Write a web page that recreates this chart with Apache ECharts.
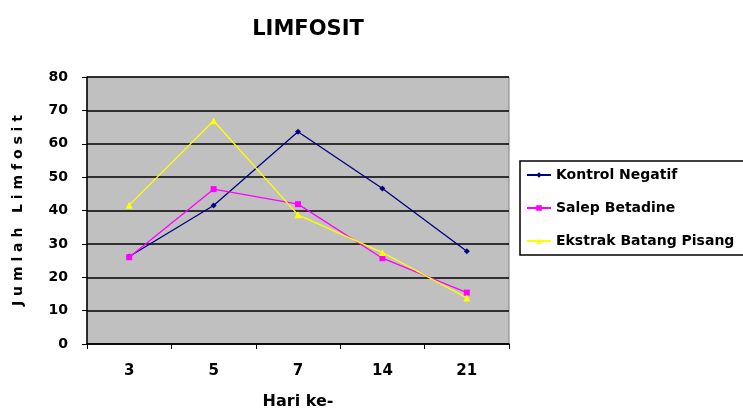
<!DOCTYPE html>
<html>
<head>
<meta charset="utf-8">
<script src="https://cdn.jsdelivr.net/npm/echarts@6/dist/echarts.min.js"></script>
<style>html,body{margin:0;padding:0;background:#fff;}#c{width:743px;height:409px;}</style>
</head>
<body>
<div id="c"></div>
<script>
const categories = ['3', '5', '7', '14', '21'];
const kontrolNegatif = [26.2, 41.5, 63.6, 46.6, 27.8];
const salepBetadine = [26.0, 46.4, 41.9, 25.7, 15.4];
const ekstrakBatangPisang = [41.6, 66.9, 38.7, 27.4, 13.8];
const seriesNames = ['Kontrol Negatif', 'Salep Betadine', 'Ekstrak Batang Pisang'];

const font = '"DejaVu Sans", "Liberation Sans", Arial, sans-serif';
const chart = echarts.init(document.getElementById('c'));
chart.setOption({
  backgroundColor: '#ffffff',
  animation: false,
  title: {
    text: 'LIMFOSIT', left: 303, top: 14, textAlign: 'center',
    textStyle: { fontFamily: font, fontWeight: 'bold', fontSize: 21, color: '#000' }
  },
  legend: {
    orient: 'vertical', left: 520, top: 161,
    data: seriesNames,
    itemWidth: 24, itemHeight: 7, itemGap: 19,
    padding: [7, 40, 7, 6],
    borderColor: '#000', borderWidth: 1.5,
    textStyle: { fontFamily: font, fontWeight: 'bold', fontSize: 14, color: '#000' }
  },
  grid: {
    left: 87, right: 234, top: 77, bottom: 65,
    outerBoundsMode: 'none', containLabel: false,
    show: true, backgroundColor: '#C0C0C0', borderColor: '#808080', borderWidth: 1
  },
  xAxis: {
    type: 'category', data: categories, boundaryGap: true,
    name: 'Hari ke-', nameLocation: 'middle', nameGap: 50,
    nameTextStyle: { fontFamily: font, fontWeight: 'bold', fontSize: 16, color: '#000' },
    axisLine: { lineStyle: { color: '#000', width: 1.5 } },
    axisTick: { show: true, length: 5, lineStyle: { color: '#000' } },
    axisLabel: { fontFamily: font, fontWeight: 'bold', fontSize: 15, color: '#000', margin: 20 }
  },
  yAxis: {
    type: 'value', min: 0, max: 80, interval: 10,
    name: 'J u m l a h   L i m f o s i t', nameLocation: 'middle', nameGap: 62, nameRotate: 90,
    nameTextStyle: { fontFamily: font, fontWeight: 'bold', fontSize: 14, color: '#000' },
    axisLine: { show: true, lineStyle: { color: '#000', width: 1.5 } },
    axisTick: { show: true, length: 5, lineStyle: { color: '#000' } },
    axisLabel: { fontFamily: font, fontWeight: 'bold', fontSize: 14, color: '#000', margin: 19 },
    splitLine: { show: true, lineStyle: { color: '#000', width: 1.5 } }
  },
  series: [
    { name: seriesNames[0], type: 'line', data: kontrolNegatif, symbol: 'diamond', symbolSize: 6,
      itemStyle: { color: '#000080' }, lineStyle: { color: '#000080', width: 1.3 } },
    { name: seriesNames[1], type: 'line', data: salepBetadine, symbol: 'rect', symbolSize: 6,
      itemStyle: { color: '#FF00FF' }, lineStyle: { color: '#FF00FF', width: 1.3 } },
    { name: seriesNames[2], type: 'line', data: ekstrakBatangPisang, symbol: 'triangle', symbolSize: 7,
      itemStyle: { color: '#FFFF00' }, lineStyle: { color: '#FFFF00', width: 1.3 } }
  ]
});
</script>
</body>
</html>
